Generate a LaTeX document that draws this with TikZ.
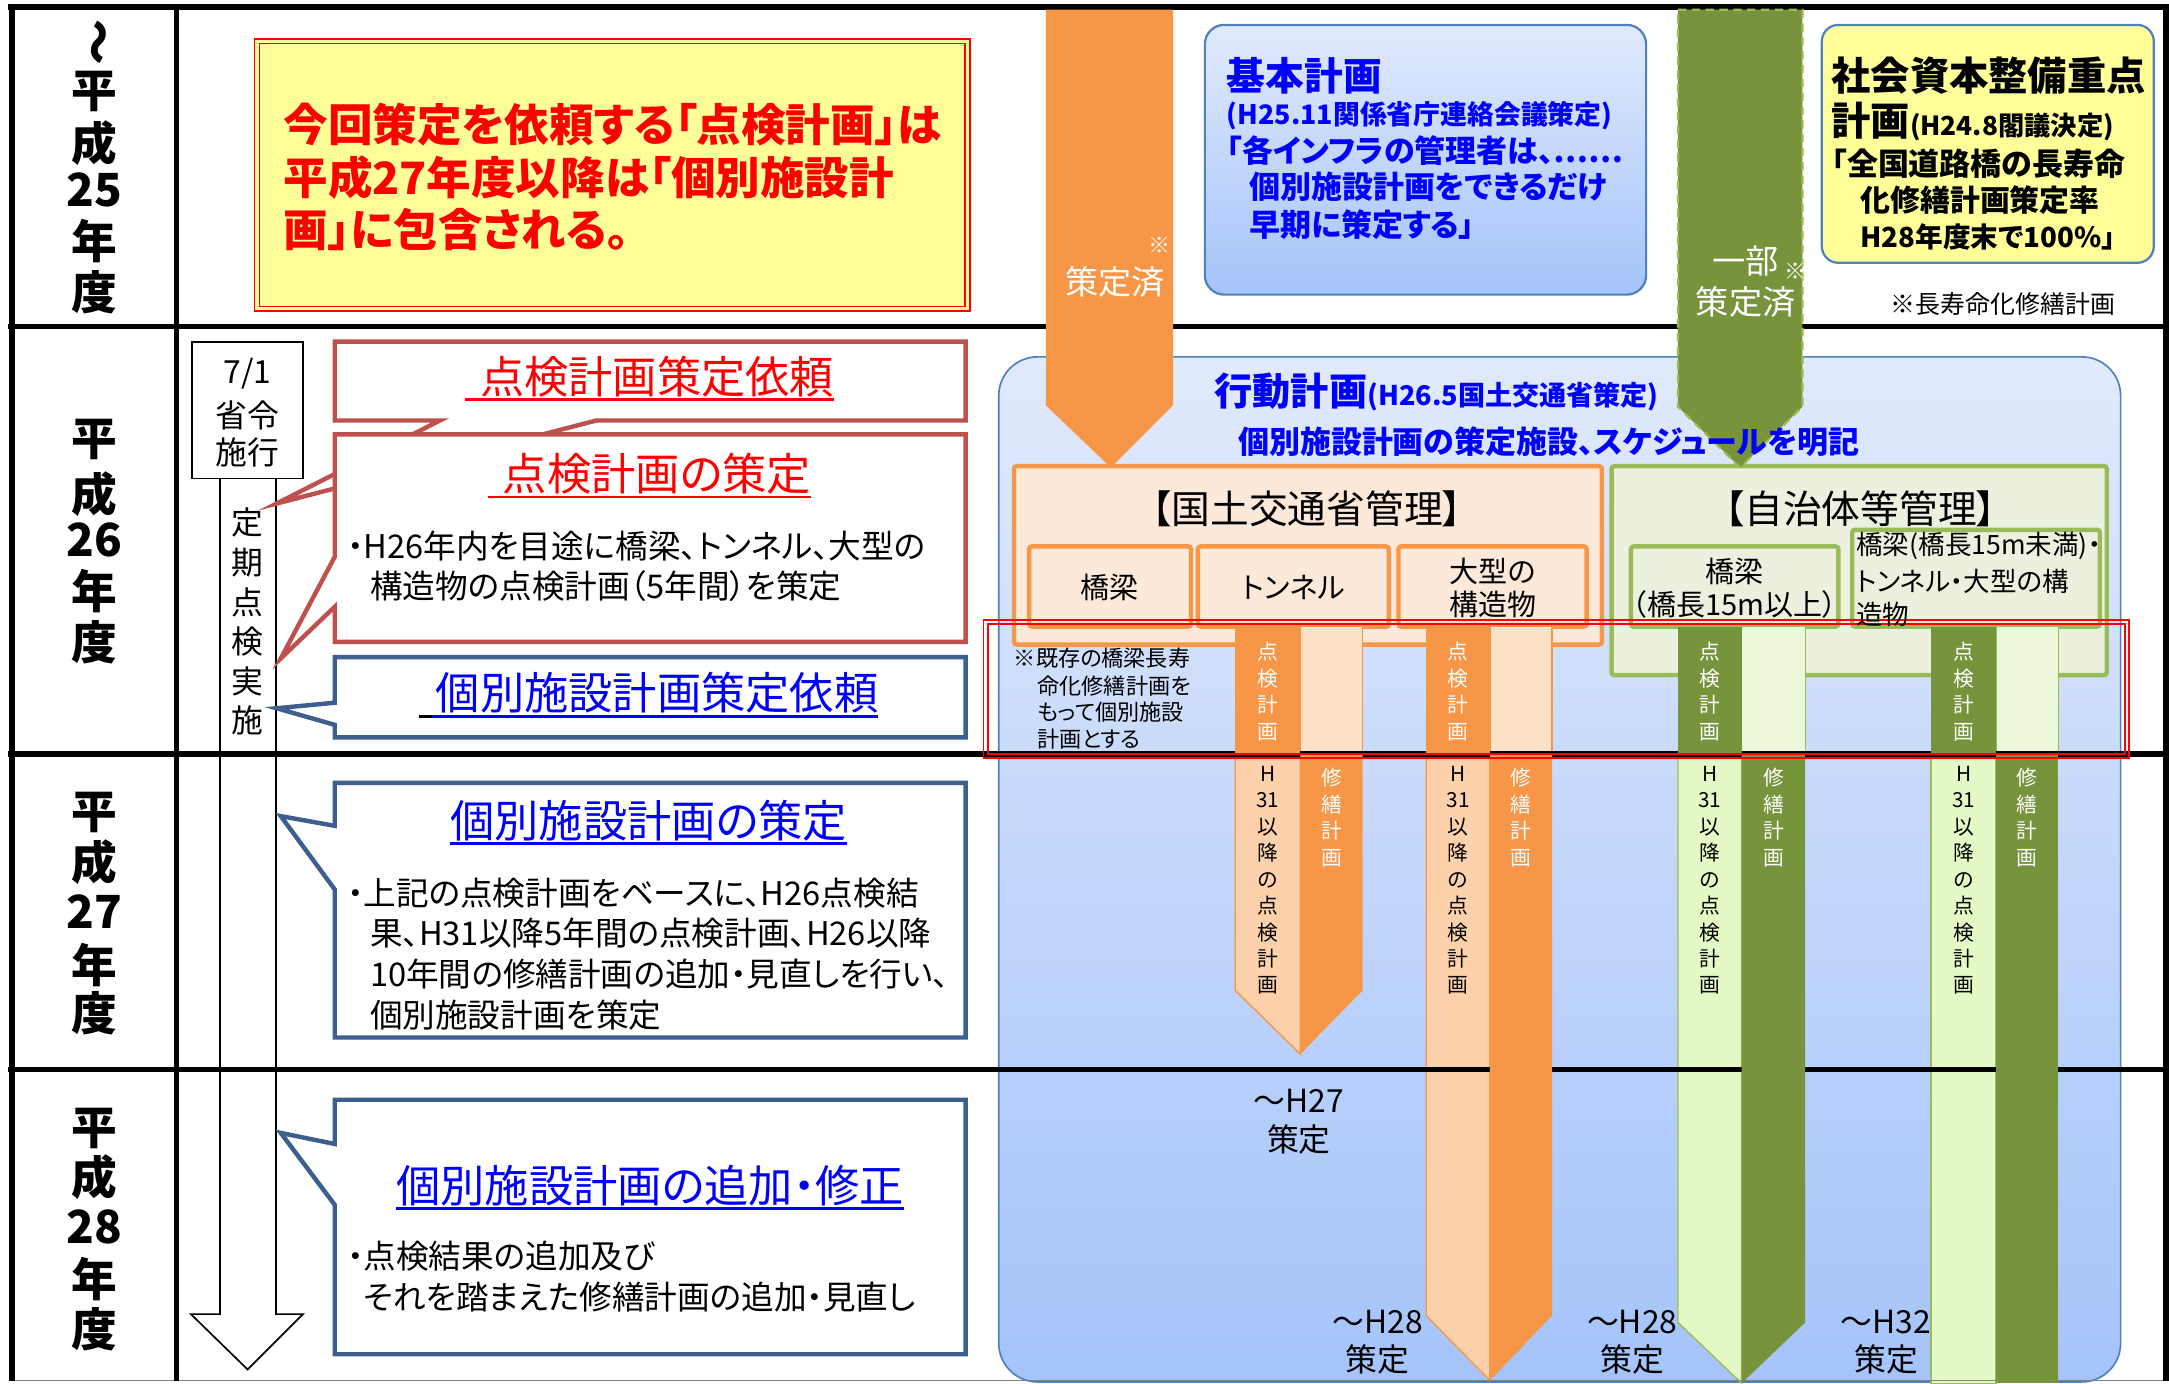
\documentclass[tikz,border=0pt]{standalone}
\usepackage{fontspec}
\setmainfont{Noto Sans CJK JP}[RawFeature=+palt]
\usetikzlibrary{calc}
\definecolor{ora}{HTML}{F79646}
\definecolor{oral}{HTML}{FCD1AC}
\definecolor{oraul}{HTML}{FDE0C8}
\definecolor{orafill}{HTML}{FDE9D9}
\definecolor{grn}{HTML}{77933C}
\definecolor{grnl}{HTML}{E4F9C5}
\definecolor{grnul}{HTML}{EDF8DA}
\definecolor{grnbd}{HTML}{9BBB59}
\definecolor{grnfill}{HTML}{EBF1DE}
\definecolor{bluebd}{HTML}{4F81BD}
\definecolor{bluetop}{HTML}{E1EAFC}
\definecolor{bluebot}{HTML}{A5C4FA}
\definecolor{calred}{HTML}{C0504D}
\definecolor{calblue}{HTML}{3C5F8E}
\definecolor{yel}{HTML}{FFFF99}
\definecolor{txtred}{HTML}{FF0000}
\definecolor{txtblue}{HTML}{0000FF}
\newcommand\fsz[2]{\fontsize{#1}{#2}\selectfont}
\begin{document}
\begin{tikzpicture}[x=0.5pt,y=-0.5pt,
  every node/.style={inner sep=0pt,outer sep=0pt},
  yr/.style={font=\fsz{16.5}{18}\bfseries},
  ttl/.style={font=\fsz{16}{18}},
  body/.style={font=\fsz{11.8}{14},anchor=west},
  calr/.style={draw=calred,line width=1.6pt,fill=white,line join=miter},
  calb/.style={draw=calblue,line width=1.6pt,fill=white,line join=miter},
  obox/.style={draw=ora,fill=orafill,line width=1.6pt,rounded corners=1pt},
  gbox/.style={draw=grnbd,fill=grnfill,line width=1.6pt,rounded corners=1pt},
  sub/.style={font=\fsz{10.5}{12},align=center},
  vt/.style={align=center,font=\fsz{7.5}{9.55}},
  lbl/.style={font=\fsz{11.5}{14}},
  bp/.style={font=\fsz{11.2}{13}\bfseries,text=txtblue,anchor=west},
  sp/.style={font=\fsz{11.2}{13}\bfseries,anchor=west},
  rowline/.style={line width=2pt,black}]
\useasboundingbox (0,0) rectangle (1568,1000);
\fill[white] (0,0) rectangle (1568,1000);

% ---- action plan big box
\path[draw=bluebd,line width=0.6pt,top color=bluetop,bottom color=bluebot,rounded corners=14pt] (722,258) rectangle (1533,999);

% ---- group boxes
\path[obox] (733,337) rectangle (1158,466);
\path[obox] (744,395) rectangle (861,453);
\path[obox] (866,395) rectangle (1004,453);
\path[obox] (1011,395) rectangle (1147,453);
\path[gbox] (1165,337) rectangle (1523,488);
\path[gbox] (1179,395) rectangle (1329,453);
\path[gbox] (1339,383) rectangle (1518,453);

% ---- bars: light parts
\foreach \xl/\xm/\xr/\ty/\tp/\lt/\ul/\lb in {893/940/985/716/762/oral/oraul/ora,1031/1077/1122/951/998/oral/oraul/ora,1213/1259/1305/956/1000/grnl/grnul/grnbd,1396/1443/1488/1000/1000/grnl/grnul/grnbd}{
  \filldraw[fill=\ul,draw=\lb,line width=0.5pt] (\xm,453) rectangle (\xr,545);
  \filldraw[fill=\lt,draw=\lb,line width=0.5pt] (\xl,545) -- (\xm,545) -- (\xm,\tp) -- (\xl,\ty) -- cycle;
}

% ---- frame
\draw[rowline] (6,5) -- (1568,5);
\foreach \yy in {236,545,773} \draw[rowline] (6,\yy) -- (1566,\yy);
\draw[gray,line width=0.6pt] (8,998) -- (1566,998);
\draw[rowline] (8.5,5) -- (8.5,998);
\draw[rowline] (127.5,5) -- (127.5,998);
\draw[rowline] (1566,5) -- (1566,998);

% ---- bars: dark parts
\foreach \xl/\xm/\xr/\ty/\tp/\dk in {893/940/985/716/762/ora,1031/1077/1122/951/998/ora,1213/1259/1305/956/1000/grn,1396/1443/1488/1000/1000/grn}{
  \fill[\dk] (\xl,453) rectangle (\xm,545);
  \fill[\dk] (\xm,545) -- (\xr,545) -- (\xr,\ty) -- (\xm,\tp) -- cycle;
}

% ---- top arrows
\fill[ora] (756,7) -- (848,7) -- (848,293) -- (803,338) -- (756,293) -- cycle;
\filldraw[fill=grn,draw=grnbd,line width=0.8pt,dash pattern=on 3pt off 2pt] (1213,7) -- (1303,7) -- (1303,294) -- (1258,338) -- (1213,294) -- cycle;

% ---- red double rectangle
\draw[red,line width=0.6pt] (711,448) rectangle (1539,548);
\draw[red,line width=0.6pt] (714,451) rectangle (1536,545);

% ---- top left yellow box
\fill[yel] (184,28) rectangle (701,225);
\draw[red,line width=0.6pt] (184,28) rectangle (701,225);
\draw[red,line width=0.6pt] (187.5,31.5) rectangle (697.5,221.5);
\node[anchor=west,font=\fsz{16.1}{19}\bfseries,text=txtred] (yt1) at (205,90) {今回策定を依頼する「点検計画」は};
\node[anchor=west,font=\fsz{16.1}{19}\bfseries,text=txtred] (yt2) at (205,128) {平成27年度以降は「個別施設計};
\node[anchor=west,font=\fsz{16.1}{19}\bfseries,text=txtred] (yt3) at (205,166) {画」に包含される。};

% ---- basic plan box
\path[draw=bluebd,line width=0.8pt,top color=bluetop,bottom color=bluebot,rounded corners=7pt] (871,18) rectangle (1190,213);
\node[bp,font=\fsz{14}{16}\bfseries] (bp1) at (887,54.5) {基本計画};
\node[bp,font=\fsz{9.7}{12}\bfseries] (bp2) at (887,83.5) {(H25.11関係省庁連絡会議策定)};
\node[bp] (bp3) at (887,108.5) {「各インフラの管理者は、……};
\node[bp] (bp4) at (903,135) {個別施設計画をできるだけ};
\node[bp] (bp5) at (903,162.5) {早期に策定する」};

% ---- social capital plan box
\filldraw[fill=yel,draw=bluebd,line width=0.8pt,rounded corners=6pt] (1317,18) rectangle (1557,190);
\node[sp,font=\fsz{14.2}{16}\bfseries] (sp1) at (1324,54.5) {社会資本整備重点};
\node[sp] (sp2) at (1324,88) {{\fsz{14.2}{16}計画}{\fsz{9.5}{12}(H24.8閣議決定)}};
\node[sp] (sp3) at (1324,118.5) {「全国道路橋の長寿命};
\node[sp,font=\fsz{10.8}{13}\bfseries] (sp4) at (1345,144.5) {化修繕計画策定率};
\node[sp,font=\fsz{10}{13}\bfseries] (sp5) at (1345,171) {H28年度末で100\%」};
\node[font=\fsz{9}{11}] (note) at (1448,219.5) {※長寿命化修繕計画};

% ---- arrow labels
\node[font=\fsz{8}{9},text=white] (oa1) at (838.5,177) {※};
\node[font=\fsz{12}{14},text=white] (oa2) at (806,204) {策定済};
\node[font=\fsz{12}{14},text=white] (ga1) at (1262,189) {一部};
\node[font=\fsz{8}{9},text=white] (ga2) at (1298,196) {※};
\node[font=\fsz{12}{14},text=white] (ga3) at (1262,218) {策定済};

% ---- action plan texts
\node[anchor=west,font=\bfseries,text=txtblue] (ap1) at (878,283) {{\fsz{13.8}{15}行動計画}{\fsz{9.8}{12}(H26.5国土交通省策定)}};
\node[bp] (ap2) at (895,319.5) {個別施設計画の策定施設、スケジュールを明記};
\node[font=\fsz{14}{16}] (g1) at (945,368) {【国土交通省管理】};
\node[font=\fsz{14}{16}] (g2) at (1345,368) {【自治体等管理】};
\node[sub] (s1) at (802,425) {橋梁};
\node[sub] (s2) at (935,425) {トンネル};
\node[sub] (s3) at (1079,425) {大型の\\構造物};
\node[sub] (s4) at (1254,425) {橋梁\\（橋長15m以上）};
\node[anchor=west,font=\fsz{9.6}{12}] (s5a) at (1342,395) {橋梁(橋長15m未満)・};
\node[anchor=west,font=\fsz{9.6}{12}] (s5b) at (1342,420) {トンネル・大型の構};
\node[anchor=west,font=\fsz{9.6}{12}] (s5c) at (1342,444) {造物};
\node[anchor=west,font=\fsz{8}{10}] (ex1) at (733,476) {※既存の橋梁長寿};
\node[anchor=west,font=\fsz{8}{10}] (ex2) at (750,496) {命化修繕計画を};
\node[anchor=west,font=\fsz{8}{10}] (ex3) at (750,515) {もって個別施設};
\node[anchor=west,font=\fsz{8}{10}] (ex4) at (750,534) {計画とする};

% ---- bar texts
\foreach \xa/\xb [count=\i] in {916.5/962.5,1054/1099.5,1236/1282,1419.5/1465.5}{
  \node[vt,text=white] (bu\i) at (\xa,500) {点\\検\\計\\画};
  \node[vt,text=black] (bl\i) at (\xa,636.5) {H\\31\\以\\降\\の\\点\\検\\計\\画};
  \node[vt,text=white] (br\i) at (\xb,591) {修\\繕\\計\\画};
}
\node[lbl] (d1a) at (939,796) {～H27};
\node[lbl] (d1b) at (939,824) {策定};
\node[lbl] (d2a) at (996,956) {～H28};
\node[lbl] (d2b) at (996,983) {策定};
\node[lbl] (d3a) at (1180,956) {～H28};
\node[lbl] (d3b) at (1180,983) {策定};
\node[lbl] (d4a) at (1363.5,956) {～H32};
\node[lbl] (d4b) at (1363.5,983) {策定};

% ---- year labels
\node[yr,rotate=-90] (ya0) at (68,30.5) {～};
\foreach \c/\yy [count=\i] in {平/66,成/103.5,25/137.5,年/174.5,度/211} \node[yr] (ya\i) at (68,\yy) {\c};
\foreach \c/\yy [count=\i] in {平/318,成/357,26/390,年/427,度/464} \node[yr] (yb\i) at (68,\yy) {\c};
\foreach \c/\yy [count=\i] in {平/587,成/623,27/659,年/697.5,度/732.5} \node[yr] (yc\i) at (68,\yy) {\c};
\foreach \c/\yy [count=\i] in {平/816,成/851,28/887,年/925,度/961} \node[yr] (yd\i) at (68,\yy) {\c};

% ---- timeline
\node[draw,line width=0.6pt,minimum width=40pt,minimum height=49.5pt] (law) at (179,296.5) {};
\node[font=\fsz{11.5}{13}] (law1) at (179,270) {7/1};
\node[font=\fsz{11.5}{13}] (law2) at (179,300) {省令};
\node[font=\fsz{11.5}{13}] (law3) at (179,327) {施行};
\draw[line width=0.6pt] (law.south -| 159,0) -- (159,950) -- (138,950) -- (179,990) -- (219,950) -- (199.5,950) -- (law.south -| 199.5,0);
\node[align=center,font=\fsz{11.5}{14.3}] (teiki) at (179,449.5) {定\\期\\点\\検\\実\\施};

% ---- callouts
\path[calr] (242,247) -- (698,247) -- (698,304) -- (431,304) -- (200,364) -- (318,304) -- (242,304) -- cycle;
\path[calr] (242,314) -- (698,314) -- (698,464) -- (242,464) -- (242,438.6) -- (203,476) -- (242,402.5) -- cycle;
\path[calb] (242,475) -- (698,475) -- (698,533) -- (242,533) -- (242,524) -- (200,512) -- (242,508) -- cycle;
\path[calb] (242,566) -- (698,566) -- (698,750) -- (242,750) -- (242,643) -- (203,590) -- (242,597) -- cycle;
\path[calb] (242,795) -- (698,795) -- (698,979) -- (242,979) -- (242,871) -- (203,819) -- (242,827) -- cycle;

\node[ttl,text=txtred] (c1t) at (475,272) {点検計画策定依頼};
\draw[txtred,line width=1pt] ([xshift=-5.5pt,yshift=-1pt]c1t.south west) -- ([yshift=-1pt]c1t.south east);
\node[ttl,text=txtred] (c2t) at (475,342.5) {点検計画の策定};
\draw[txtred,line width=1pt] ([xshift=-5.5pt,yshift=-1pt]c2t.south west) -- ([yshift=-1pt]c2t.south east);
\node[body] (c2a) at (251,395) {・H26年内を目途に橋梁、トンネル、大型の};
\node[body] (c2b) at (267.5,424) {構造物の点検計画（5年間）を策定};

\node[ttl,text=txtblue] (c3t) at (475,501) {個別施設計画策定依頼};
\draw[black,line width=1pt] ([xshift=-6pt,yshift=-1pt]c3t.south west) -- ([xshift=-1.5pt,yshift=-1pt]c3t.south west);
\draw[txtblue,line width=1pt] ([xshift=-1.5pt,yshift=-1pt]c3t.south west) -- ([yshift=-1pt]c3t.south east);

\node[ttl,text=txtblue] (c4t) at (469,593) {個別施設計画の策定};
\draw[txtblue,line width=1pt] ([yshift=-1pt]c4t.south west) -- ([yshift=-1pt]c4t.south east);
\node[body] (c4a) at (251,646) {・上記の点検計画をベースに、H26点検結};
\node[body] (c4b) at (267.5,674.5) {果、H31以降5年間の点検計画、H26以降};
\node[body] (c4c) at (267.5,704) {10年間の修繕計画の追加・見直しを行い、};
\node[body] (c4d) at (267.5,733.5) {個別施設計画を策定};

\node[ttl,text=txtblue] (c5t) at (470,857) {個別施設計画の追加・修正};
\draw[txtblue,line width=1pt] ([yshift=-1pt]c5t.south west) -- ([yshift=-1pt]c5t.south east);
\node[body] (c5a) at (251,908) {・点検結果の追加及び};
\node[body] (c5b) at (263,937.5) {それを踏まえた修繕計画の追加・見直し};
\end{tikzpicture}
\end{document}
